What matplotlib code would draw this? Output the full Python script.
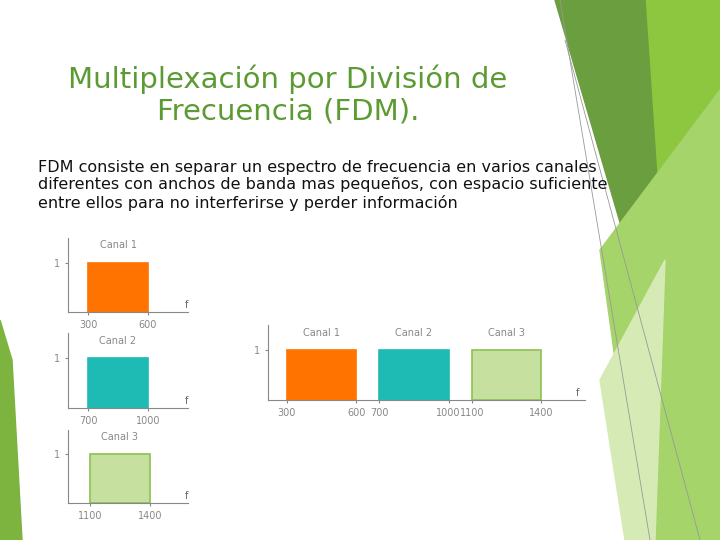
import matplotlib.pyplot as plt
from matplotlib.patches import Polygon

W, H = 720, 540

# datos de los canales
canales = ["Canal 1", "Canal 2", "Canal 3"]
inicio = [300, 700, 1100]
fin = [600, 1000, 1400]
amplitud = [1, 1, 1]
colores = ["#FF7300", "#1EBBB5", "#C6E0A0"]
bordes = ["#FF7300", "#1EBBB5", "#8CC152"]

fig = plt.figure(figsize=(7.2, 5.4), dpi=100)

def px(x, y):
    return (x / W, 1 - y / H)

# decoracion de la diapositiva
decor = [
    ([(640, 0), (720, 0), (720, 540), (655, 540)], "#8DC63F"),
    ([(555, 0), (645, 0), (672, 400)], "#6A9E3F"),
    ([(600, 250), (720, 90), (720, 540), (640, 540)], "#A5D46A"),
    ([(600, 380), (665, 260), (655, 540), (625, 540)], "#D6EAB5"),
    ([(0, 320), (12, 360), (22, 540), (0, 540)], "#7DB33F"),
]
for pts, c in decor:
    fig.patches.append(Polygon([px(*p) for p in pts], closed=True, color=c,
                               transform=fig.transFigure, zorder=0))
for a, b in [((560, 0), (650, 540)), ((565, 40), (700, 540))]:
    fig.add_artist(plt.Line2D([px(*a)[0], px(*b)[0]], [px(*a)[1], px(*b)[1]],
                              color="#999999", lw=0.6, transform=fig.transFigure))

fig.text(px(288, 0)[0], px(0, 95)[1], "Multiplexación por División de\nFrecuencia (FDM).",
         ha="center", va="center", fontsize=21, color="#5B9B32", linespacing=1.15)
fig.text(px(38, 0)[0], px(0, 160)[1],
         "FDM consiste en separar un espectro de frecuencia en varios canales\n"
         "diferentes con anchos de banda mas pequeños, con espacio suficiente\n"
         "entre ellos para no interferirse y perder información",
         ha="left", va="top", fontsize=11.5, color="#111111", linespacing=1.2)

def eje(x0, y0, x1, y1, xlim, idx_list):
    l, b = px(x0, y1)
    ax = fig.add_axes([l, b, (x1 - x0) / W, (y1 - y0) / H])
    ax.patch.set_alpha(0)
    for i in idx_list:
        ax.bar(inicio[i], amplitud[i], width=fin[i] - inicio[i], align="edge",
               color=colores[i], edgecolor=bordes[i], lw=1.2)
        ax.text((inicio[i] + fin[i]) / 2, 1.25, canales[i], ha="center",
                va="bottom", fontsize=7, color="#888888")
    ax.set_xlim(*xlim)
    ax.set_ylim(0, 1.5)
    ticks = [v for i in idx_list for v in (inicio[i], fin[i])]
    ax.set_xticks(ticks)
    ax.set_xticklabels([str(t) for t in ticks])
    ax.set_yticks([1])
    ax.tick_params(labelsize=7, colors="#888888", length=2)
    for s in ["top", "right"]:
        ax.spines[s].set_visible(False)
    for s in ["left", "bottom"]:
        ax.spines[s].set_color("#888888")
    ax.text(xlim[1] - (xlim[1] - xlim[0]) * 0.03, 0.08, "f", fontsize=7, color="#666666")
    return ax

eje(68, 238, 188, 312, (200, 800), [0])
eje(68, 333, 188, 408, (600, 1200), [1])
eje(68, 430, 188, 503, (990, 1590), [2])
eje(268, 325, 585, 400, (218, 1590), [0, 1, 2])

fig.savefig("out.png", dpi=100)
